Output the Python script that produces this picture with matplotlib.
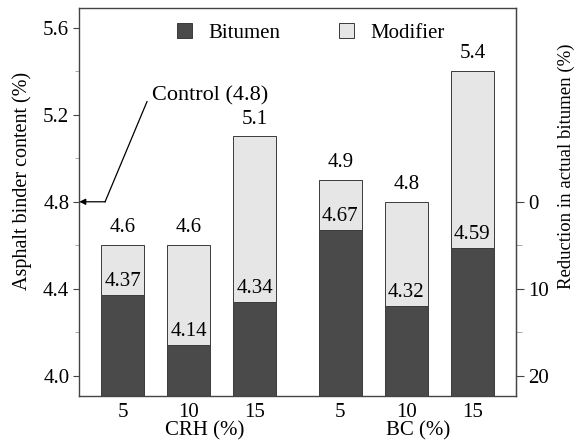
import matplotlib
matplotlib.use("Agg")
import matplotlib.pyplot as plt
from matplotlib.ticker import MultipleLocator, FixedLocator

plt.rcParams['font.family'] = ['Liberation Serif', 'DejaVu Serif']

groups = ["CRH (%)", "BC (%)"]
tick_labels = ["5", "10", "15", "5", "10", "15"]
bitumen = [4.37, 4.14, 4.34, 4.67, 4.32, 4.59]
total = [4.6, 4.6, 5.1, 4.9, 4.8, 5.4]
control = 4.8

pos = [0, 1, 2, 3.3, 4.3, 5.3]
modifier = [t - b for t, b in zip(total, bitumen)]

fig = plt.figure(figsize=(5.78, 4.48), dpi=100)
ax = fig.add_axes([79/578, 1-396/448, (516-79)/578, (396-8)/448])

dark = "#4a4a4a"
light = "#e6e6e6"
edge = "#3a3a3a"
ax.bar(pos, bitumen, width=0.65, color=dark, edgecolor=edge, linewidth=0.7, label="Bitumen")
ax.bar(pos, modifier, bottom=bitumen, width=0.65, color=light, edgecolor=edge, linewidth=0.7, label="Modifier")

ax.set_ylim(3.908, 5.69)
ax.set_xlim(-0.66, 5.96)

fs = 15
for p, b, t in zip(pos, bitumen, total):
    ax.text(p, t + 0.08, f"{t:g}", ha="center", va="center", fontsize=fs)
    ax.text(p, b + 0.062, f"{b:.2f}", ha="center", va="center", fontsize=fs)

ax.set_yticks([4.0, 4.4, 4.8, 5.2, 5.6])
ax.set_yticklabels(["4.0", "4.4", "4.8", "5.2", "5.6"])
ax.yaxis.set_minor_locator(MultipleLocator(0.2))
ax.set_xticks(pos)
ax.set_xticklabels(tick_labels)
ax.tick_params(axis="both", labelsize=fs, direction="out", color="#444444")
ax.tick_params(axis="x", length=0, pad=5)
ax.tick_params(axis="y", which="major", length=4, pad=3)
ax.tick_params(axis="y", which="minor", length=3, color="#999999")
for s in ax.spines.values():
    s.set_color("#444444")
    s.set_linewidth(1.0)

fig.text(22/578, 1-181/448, "Asphalt binder content (%)", rotation=90,
         ha="center", va="center", fontsize=14.5)

# group labels
ax.text(1.25, -0.09, groups[0], transform=ax.get_xaxis_transform(), ha="center", va="center", fontsize=fs)
ax.text(4.48, -0.09, groups[1], transform=ax.get_xaxis_transform(), ha="center", va="center", fontsize=fs)

sec = ax.secondary_yaxis("right", functions=(lambda v: (control - v) * 25, lambda r: control - r / 25))
sec.yaxis.set_major_locator(FixedLocator([0, 10, 20]))
sec.yaxis.set_minor_locator(FixedLocator([5, 15]))
sec.tick_params(axis="y", which="major", length=6, pad=3, labelsize=fs, color="#444444")
sec.tick_params(axis="y", which="minor", length=4, color="#999999")
sec.spines["right"].set_color("#444444")
fig.text(566/578, 1-166/448, "Reduction in actual bitumen (%)", rotation=90,
         ha="center", va="center", fontsize=13.5)

# control annotation
ax.text(0.45, 5.285, "Control (4.8)", ha="left", va="center", fontsize=16)
ax.plot([0.37, -0.265], [5.26, control], color="black", lw=0.9)
ax.annotate("", xy=(-0.655, control), xytext=(-0.265, control),
            arrowprops=dict(arrowstyle="-|>", color="black", lw=0.9, mutation_scale=9,
                            shrinkA=0, shrinkB=0))

leg = ax.legend(loc="upper center", ncol=2, frameon=False, fontsize=15,
                bbox_to_anchor=(0.53, 1.01), handlelength=0.72, handleheight=0.72,
                columnspacing=2.8, handletextpad=0.8)

fig.savefig("out.png", dpi=100)
